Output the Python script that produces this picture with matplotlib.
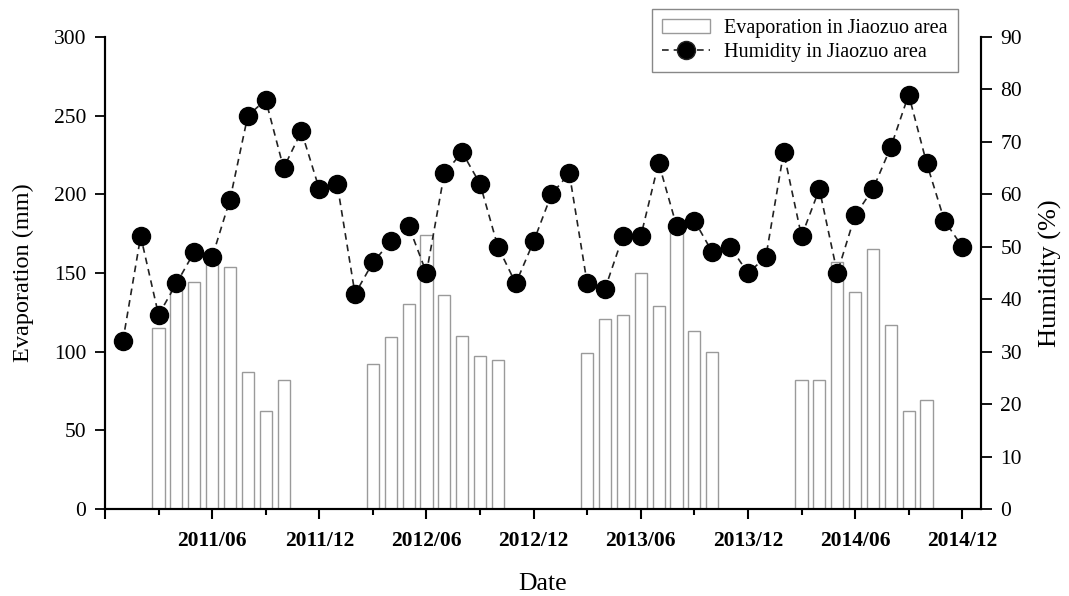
import numpy as np
import matplotlib.pyplot as plt
from matplotlib.patches import Patch
from matplotlib.lines import Line2D

plt.rcParams['font.family'] = ['Liberation Serif', 'DejaVu Serif']

# months counted from 2011/01 (index 0) to 2014/12 (index 47)
months = np.arange(48)
humidity = [32, 52, 37, 43, 49, 48, 59, 75, 78, 65, 72, 61,
            62, 41, 47, 51, 54, 45, 64, 68, 62, 50, 43, 51,
            60, 64, 43, 42, 52, 52, 66, 54, 55, 49, 50, 45,
            48, 68, 52, 61, 45, 56, 61, 69, 79, 66, 55, 50]

# evaporation is only recorded March..October of each year
evap_months = [2, 3, 4, 5, 6, 7, 8, 9,
               14, 15, 16, 17, 18, 19, 20, 21,
               26, 27, 28, 29, 30, 31, 32, 33,
               38, 39, 40, 41, 42, 43, 44, 45]
evaporation = [115, 140, 144, 158, 154, 87, 62, 82,
               92, 109, 130, 174, 136, 110, 97, 95,
               99, 121, 123, 150, 129, 178, 113, 100,
               82, 82, 157, 138, 165, 117, 62, 69]

tick_pos = [5, 11, 17, 23, 29, 35, 41, 47]
tick_labels = ['2011/06', '2011/12', '2012/06', '2012/12',
               '2013/06', '2013/12', '2014/06', '2014/12']

fig = plt.figure(figsize=(10.69, 5.96), dpi=100)
ax = fig.add_axes([0.0982, 0.146, 0.8195, 0.792])
ax2 = ax.twinx()

ax.bar(evap_months, evaporation, width=0.68, color='white',
       edgecolor='#9a9a9a', linewidth=1.0)
ax2.plot(months, humidity, color='#222222', linestyle=(0, (4, 3)),
         linewidth=1.2, marker='o', markersize=13,
         markerfacecolor='black', markeredgecolor='black')

ax.set_xlim(-1, 48.05)
ax.set_ylim(0, 300)
ax2.set_ylim(0, 90)
ax.set_yticks(np.arange(0, 301, 50))
ax2.set_yticks(np.arange(0, 91, 10))

ax.set_xticks([-1] + tick_pos)
ax.set_xticklabels([''] + tick_labels, fontweight='bold', fontsize=15.5)
ax.set_xticks([2, 8, 14, 20, 26, 32, 38, 44], minor=True)
ax.tick_params(axis='x', which='major', length=7, width=1.5, pad=9)
ax.tick_params(axis='x', which='minor', length=4, width=1.5)
ax.tick_params(axis='y', length=7.5, width=1.3, labelsize=15.5, pad=6)
ax2.tick_params(axis='y', length=8, width=1.3, labelsize=15.5, pad=6)

for a in (ax, ax2):
    a.spines['top'].set_visible(False)
    for s in ('left', 'right', 'bottom'):
        a.spines[s].set_linewidth(1.5)

ax.set_xlabel('Date', fontsize=18.5, labelpad=16)
ax.set_ylabel('Evaporation (mm)', fontsize=17.5, labelpad=14)
ax2.set_ylabel('Humidity (%)', fontsize=19, labelpad=12)

handles = [Patch(facecolor='white', edgecolor='#9a9a9a', linewidth=1.0),
           Line2D([], [], color='#222222', linestyle=(0, (4, 3)), linewidth=1.2,
                  marker='o', markersize=13, markerfacecolor='black')]
leg = ax2.legend(handles, ['Evaporation in Jiaozuo area', 'Humidity in Jiaozuo area'],
                 loc='upper right', bbox_to_anchor=(0.896, 0.985),
                 bbox_transform=fig.transFigure, borderaxespad=0,
                 fontsize=14.5, fancybox=False, edgecolor='#888888',
                 framealpha=1, borderpad=0.5, labelspacing=0.25,
                 handlelength=2.4, handletextpad=0.7)
leg.get_frame().set_linewidth(1.0)

fig.savefig('out.png', dpi=100)
